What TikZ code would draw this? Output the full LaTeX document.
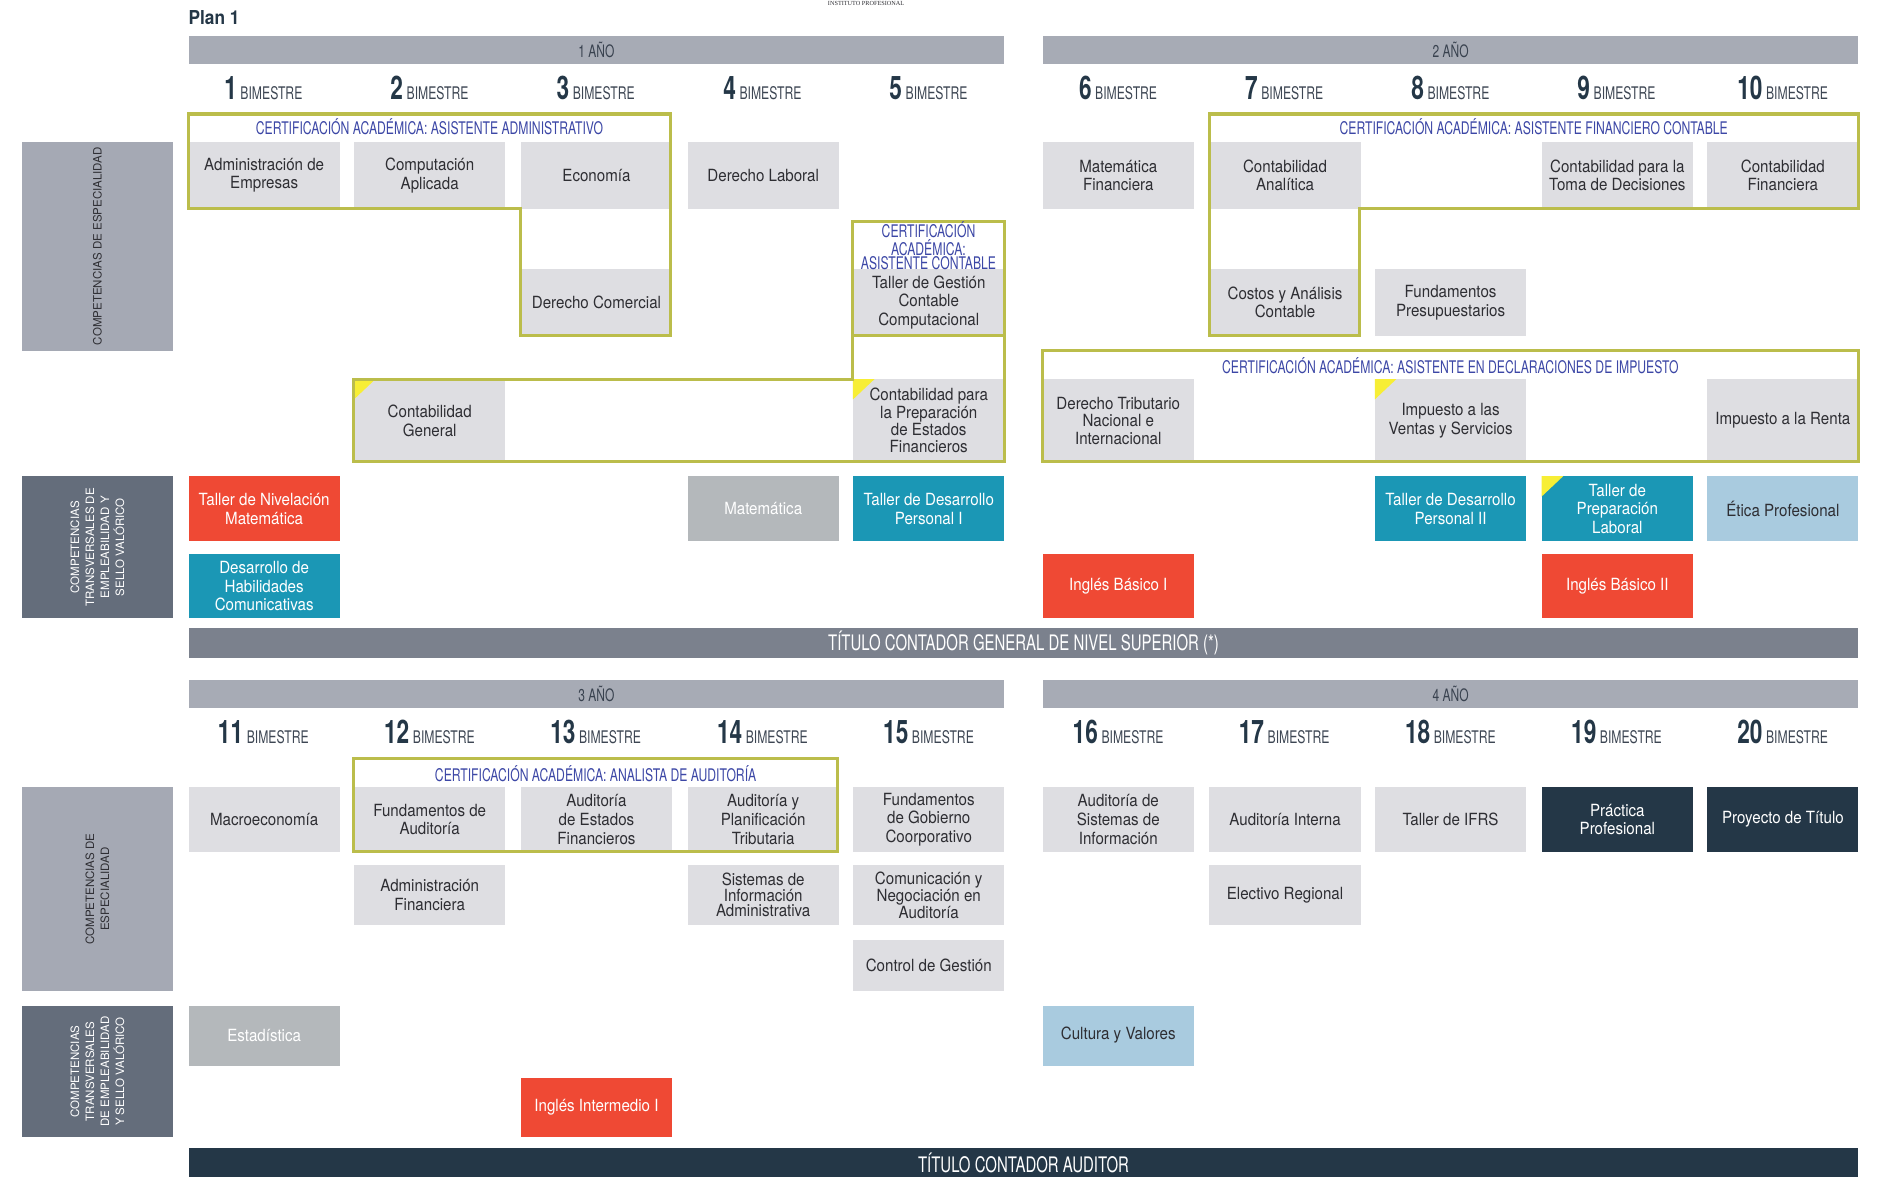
\documentclass[tikz,border=0pt]{standalone}
\usepackage{fontspec}
\usepackage{graphicx}
\setmainfont{TeX Gyre Heros}[FakeStretch=0.9]
\newfontfamily\cnd{TeX Gyre Heros}[FakeStretch=0.7]
\newfontfamily\lblf{TeX Gyre Heros}
\newfontfamily\instf{Liberation Serif}
\definecolor{boxgray}{HTML}{DEDEE2}
\definecolor{hdr}{HTML}{A7ABB5}
\definecolor{espgray}{HTML}{A5A9B4}
\definecolor{transgray}{HTML}{646D7B}
\definecolor{titlegray}{HTML}{7B818D}
\definecolor{cgreen}{HTML}{BBBD4B}
\definecolor{cblue}{HTML}{3C47A6}
\definecolor{cred}{HTML}{EF4934}
\definecolor{cteal}{HTML}{1B97B5}
\definecolor{clb}{HTML}{A9CBDF}
\definecolor{cmg}{HTML}{B4B8BB}
\definecolor{cnavy}{HTML}{243747}
\definecolor{cyel}{HTML}{F7EE35}
\definecolor{txt}{HTML}{2E2E33}
\definecolor{bimtxt}{HTML}{3D4653}
\definecolor{hdrtxt}{HTML}{39424F}
\newcommand\bimlbl[1]{{\color{cnavy}\fontsize{27}{27}\selectfont\bfseries #1}\hspace{3pt}{\color{bimtxt}\fontsize{14.5}{14.5}\selectfont BIMESTRE}}
\newcommand\mybox[6]{\node[#5, minimum height=#4pt, anchor=north west] (#1) at (#2,#3) {#6};}
\newcommand\ytri[2]{\fill[cyel] (#1,#2) -- ++(18,0) -- ++(-18,17) -- cycle;}
\tikzset{
  subj/.style={rectangle, inner sep=0pt, minimum width=126pt, align=center, fill=boxgray, text=txt, font=\fontsize{14}{15.5}\selectfont},
  tight/.style={font=\fontsize{14}{13}\selectfont},
  mid/.style={font=\fontsize{14}{14.5}\selectfont},
  redbox/.style={subj, fill=cred, text=white},
  tealbox/.style={subj, fill=cteal, text=white},
  lbbox/.style={subj, fill=clb},
  mgbox/.style={subj, fill=cmg, text=white},
  navybox/.style={subj, fill=cnavy, text=white},
  certline/.style={draw=cgreen, line width=2.6pt, line join=miter},
  certlbl/.style={text=cblue, font=\cnd\fontsize{14.5}{11}\selectfont, inner sep=0pt, align=center},
  yearbar/.style={rectangle, inner sep=0pt, fill=hdr, text=hdrtxt, minimum width=680pt, minimum height=23pt, anchor=north west, font=\cnd\fontsize{14.3}{14.3}\selectfont},
  titlebar/.style={rectangle, inner sep=0pt, text=white, minimum width=1392pt, anchor=north west, font=\cnd\fontsize{17.8}{17.8}\selectfont},
  bim/.style={anchor=base, inner sep=0pt, font=\cnd},
  sidebox/.style={rectangle, inner sep=0pt, minimum width=126pt, anchor=north west},
  sidetxt/.style={rotate=90, inner sep=0pt, align=center, font=\lblf\fontsize{9.6}{12.5}\selectfont},
}
\begin{document}
\begin{tikzpicture}[x=1pt,y=-1pt]
\useasboundingbox (0,0) rectangle (1568,981);
\fill[white] (0,0) rectangle (1568,981);
% header texts
\node[anchor=west, inner sep=0pt, text=cnavy, font=\fontsize{16}{16}\selectfont\bfseries] (plan) at (157,15) {Plan 1};
\node[inner sep=0pt, text=txt, font=\instf\fontsize{5.2}{6}\selectfont] (inst) at (722,3) {INSTITUTO PROFESIONAL};
% year bars
\node[yearbar] (y1) at (157,30) {1 AÑO};
\node[yearbar] (y2) at (869,30) {2 AÑO};
\node[yearbar] (y3) at (157,567) {3 AÑO};
\node[yearbar] (y4) at (869,567) {4 AÑO};
% bimestre labels
\node[bim] (b1) at (219.5,83) {\bimlbl{1}};
\node[bim] (b2) at (358,83) {\bimlbl{2}};
\node[bim] (b3) at (496.5,83) {\bimlbl{3}};
\node[bim] (b4) at (635.5,83) {\bimlbl{4}};
\node[bim] (b5) at (774,83) {\bimlbl{5}};
\node[bim] (b6) at (932,83) {\bimlbl{6}};
\node[bim] (b7) at (1070.5,83) {\bimlbl{7}};
\node[bim] (b8) at (1209,83) {\bimlbl{8}};
\node[bim] (b9) at (1347.5,83) {\bimlbl{9}};
\node[bim] (b10) at (1486,83) {\bimlbl{10}};
\node[bim] (b11) at (219.5,620) {\bimlbl{11}};
\node[bim] (b12) at (358,620) {\bimlbl{12}};
\node[bim] (b13) at (496.5,620) {\bimlbl{13}};
\node[bim] (b14) at (635.5,620) {\bimlbl{14}};
\node[bim] (b15) at (774,620) {\bimlbl{15}};
\node[bim] (b16) at (932,620) {\bimlbl{16}};
\node[bim] (b17) at (1070.5,620) {\bimlbl{17}};
\node[bim] (b18) at (1209,620) {\bimlbl{18}};
\node[bim] (b19) at (1347.5,620) {\bimlbl{19}};
\node[bim] (b20) at (1486,620) {\bimlbl{20}};
% side labels
\node[sidebox, fill=espgray, minimum height=174pt] (esp1) at (18,118) {};
\node[sidetxt, text=txt] (esp1t) at (esp1.center) {COMPETENCIAS DE ESPECIALIDAD};
\node[sidebox, fill=transgray, minimum height=118pt] (tr1) at (18,397) {};
\node[sidetxt, text=white] (tr1t) at (tr1.center) {COMPETENCIAS\\TRANSVERSALES DE\\EMPLEABILIDAD Y\\SELLO VALÓRICO};
\node[sidebox, fill=espgray, minimum height=170pt] (esp2) at (18,656) {};
\node[sidetxt, text=txt] (esp2t) at (esp2.center) {COMPETENCIAS DE\\ESPECIALIDAD};
\node[sidebox, fill=transgray, minimum height=110pt] (tr2) at (18,838) {};
\node[sidetxt, text=white] (tr2t) at (tr2.center) {COMPETENCIAS\\TRANSVERSALES\\DE EMPLEABILIDAD\\Y SELLO VALÓRICO};
% ---- top half subjects
\mybox{admin}{157}{118}{56}{subj}{Administración de\\Empresas}
\mybox{comp}{295}{118}{56}{subj}{Computación\\Aplicada}
\mybox{econ}{434}{118}{56}{subj}{Economía}
\mybox{dlab}{573}{118}{56}{subj}{Derecho Laboral}
\mybox{mfin}{869}{118}{56}{subj}{Matemática\\Financiera}
\mybox{cana}{1008}{118}{56}{subj}{Contabilidad\\Analítica}
\mybox{ctom}{1285}{118}{56}{subj}{Contabilidad para la\\Toma de Decisiones}
\mybox{cfin}{1423}{118}{56}{subj}{Contabilidad\\Financiera}
\mybox{dcom}{434}{224}{56}{subj}{Derecho Comercial}
\mybox{tgcc}{711}{224}{56}{subj}{Taller de Gestión\\Contable\\Computacional}
\mybox{cyac}{1008}{224}{56}{subj}{Costos y Análisis\\Contable}
\mybox{fpre}{1146}{224}{56}{subj}{Fundamentos\\Presupuestarios}
\mybox{cgen}{295}{316}{69}{subj}{Contabilidad\\General}
\mybox{cpef}{711}{316}{69}{subj,mid}{Contabilidad para\\la Preparación\\de Estados\\Financieros}
\mybox{dtni}{869}{316}{69}{subj,mid}{Derecho Tributario\\Nacional e\\Internacional}
\mybox{ivs}{1146}{316}{69}{subj}{Impuesto a las\\Ventas y Servicios}
\mybox{ren}{1423}{316}{69}{subj}{Impuesto a la Renta}
\mybox{tnm}{157}{397}{54}{redbox}{Taller de Nivelación\\Matemática}
\mybox{mat}{573}{397}{54}{mgbox}{Matemática}
\mybox{tdp1}{711}{397}{54}{tealbox}{Taller de Desarrollo\\Personal I}
\mybox{tdp2}{1146}{397}{54}{tealbox}{Taller de Desarrollo\\Personal II}
\mybox{tpl}{1285}{397}{54}{tealbox}{Taller de\\Preparación\\Laboral}
\mybox{etp}{1423}{397}{54}{lbbox}{Ética Profesional}
\mybox{dhc}{157}{462}{53}{tealbox}{Desarrollo de\\Habilidades\\Comunicativas}
\mybox{ib1}{869}{462}{53}{redbox}{Inglés Básico I}
\mybox{ib2}{1285}{462}{53}{redbox}{Inglés Básico II}
\node[titlebar, fill=titlegray, minimum height=25pt] (t1) at (157,523) {TÍTULO CONTADOR GENERAL DE NIVEL SUPERIOR (*)};
% ---- bottom half subjects
\mybox{macro}{157}{656}{54}{subj}{Macroeconomía}
\mybox{faud}{295}{656}{54}{subj}{Fundamentos de\\Auditoría}
\mybox{aef}{434}{656}{54}{subj}{Auditoría\\de Estados\\Financieros}
\mybox{apt}{573}{656}{54}{subj}{Auditoría y\\Planificación\\Tributaria}
\mybox{fgc}{711}{656}{54}{subj}{Fundamentos\\de Gobierno\\Coorporativo}
\mybox{asi}{869}{656}{54}{subj}{Auditoría de\\Sistemas de\\Información}
\mybox{aint}{1008}{656}{54}{subj}{Auditoría Interna}
\mybox{ifrs}{1146}{656}{54}{subj}{Taller de IFRS}
\mybox{ppro}{1285}{656}{54}{navybox}{Práctica\\Profesional}
\mybox{ptit}{1423}{656}{54}{navybox}{Proyecto de Título}
\mybox{afin}{295}{721}{50}{subj}{Administración\\Financiera}
\mybox{sia}{573}{721}{50}{subj,tight}{Sistemas de\\Información\\Administrativa}
\mybox{cna}{711}{721}{50}{subj,tight}{Comunicación y\\Negociación en\\Auditoría}
\mybox{ereg}{1008}{721}{50}{subj}{Electivo Regional}
\mybox{cges}{711}{783}{43}{subj}{Control de Gestión}
\mybox{est}{157}{838}{50}{mgbox}{Estadística}
\mybox{cyv}{869}{838}{50}{lbbox}{Cultura y Valores}
\mybox{ii1}{434}{898}{50}{redbox}{Inglés Intermedio I}
\node[titlebar, fill=cnavy, minimum height=30pt] (t2) at (157,957) {\raisebox{6pt}{TÍTULO CONTADOR AUDITOR}};
% yellow corner marks
\ytri{295}{316}
\ytri{711}{316}
\ytri{1146}{316}
\ytri{1285}{397}
% certification outlines
\draw[certline] (157,95) -- (559,95) -- (559,280) -- (434,280) -- (434,174) -- (157,174) -- cycle;
\draw[certline] (711,185) -- (837,185) -- (837,385) -- (295,385) -- (295,316) -- (711,316) -- cycle;
\draw[certline] (711,280) -- (837,280);
\draw[certline] (1008,95) -- (1549,95) -- (1549,174) -- (1133,174) -- (1133,280) -- (1008,280) -- cycle;
\draw[certline] (869,292) rectangle (1549,385);
\draw[certline] (295,632) rectangle (698,710);
% certification labels
\node[certlbl] (cl1) at (358,106) {CERTIFICACIÓN ACADÉMICA: ASISTENTE ADMINISTRATIVO};
\node[certlbl] (cl2) at (774,205) {CERTIFICACIÓN\\ACADÉMICA:\\ASISTENTE CONTABLE};
\node[certlbl] (cl3) at (1278.5,106) {CERTIFICACIÓN ACADÉMICA: ASISTENTE FINANCIERO CONTABLE};
\node[certlbl] (cl4) at (1209,305) {CERTIFICACIÓN ACADÉMICA: ASISTENTE EN DECLARACIONES DE IMPUESTO};
\node[certlbl] (cl5) at (496.5,645) {CERTIFICACIÓN ACADÉMICA: ANALISTA DE AUDITORÍA};
\end{tikzpicture}
\end{document}
